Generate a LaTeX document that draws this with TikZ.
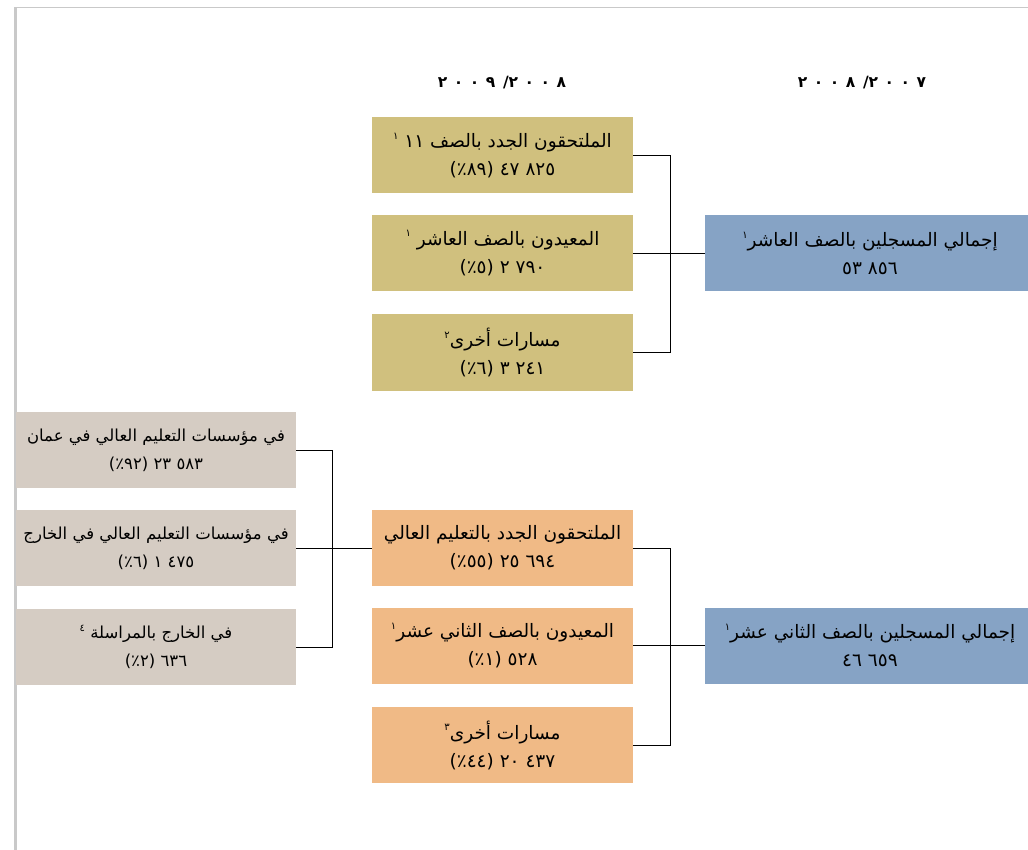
\documentclass[tikz,border=0pt]{standalone}
\usepackage{fontspec}
\newfontfamily\arabicfont[Script=Arabic]{DejaVu Sans}
\TeXXeTstate=1
\definecolor{khaki}{HTML}{D0C07E}
\definecolor{bluebox}{HTML}{86A3C5}
\definecolor{graybox}{HTML}{D5CCC3}
\definecolor{orangebox}{HTML}{F0BA86}
\definecolor{frame}{HTML}{C9C9C9}
\newcommand\supnum[1]{\raisebox{0.8ex}{\fontsize{10}{10}\selectfont #1}}
\newcommand\dg{\hspace{0.42em}}
\tikzset{
  box/.style={minimum width=261, minimum height=76, inner sep=0pt, align=center,
    font=\arabicfont\fontsize{18.5}{28}\selectfont},
  kbox/.style={box, fill=khaki},
  obox/.style={box, fill=orangebox},
  gbox/.style={box, fill=graybox, minimum width=280, font=\arabicfont\fontsize{16.5}{28}\selectfont},
  bbox/.style={box, fill=bluebox, minimum width=330},
  head/.style={font=\arabicfont\bfseries\fontsize{15.5}{18}\selectfont, inner sep=0pt},
  conn/.style={draw=black, line width=0.8pt},
}
\begin{document}
\begin{tikzpicture}[x=1pt, y=-1pt]
\useasboundingbox (0,0) rectangle (1028,850);
\clip (0,0) rectangle (1028,850);
\fill[white] (0,0) rectangle (1028,850);
\fill[frame] (14,8) rectangle (17,850);
\draw[frame, line width=1.2pt] (14,7.5) -- (1028,7.5);

\node[head] (h1) at (502,83) {\beginR\beginL ٢\dg٠\dg٠\dg٨\endL/\hspace{0.5em}\beginL ٢\dg٠\dg٠\dg٩\endL\endR};
\node[head] (h2) at (862,83) {\beginR\beginL ٢\dg٠\dg٠\dg٧\endL/\hspace{0.5em}\beginL ٢\dg٠\dg٠\dg٨\endL\endR};

\node[kbox] (k1) at (502.5,155.5) {\beginR الملتحقون الجدد بالصف ١١ \supnum{١}\endR\\\beginR\beginL ٤٧ ٨٢٥\endL{} (٨٩٪)\endR};
\node[kbox] (k2) at (502.5,253) {\beginR المعيدون بالصف العاشر \supnum{١}\endR\\\beginR\beginL ٢ ٧٩٠\endL{} (٥٪)\endR};
\node[kbox] (k3) at (502.5,352.5) {\beginR مسارات أخرى\supnum{٢}\endR\\\beginR\beginL ٣ ٢٤١\endL{} (٦٪)\endR};

\node[bbox] (b1) at (870,253) {\beginR إجمالي المسجلين بالصف العاشر\supnum{١}\endR\\\beginR\beginL ٥٣ ٨٥٦\endL\endR};

\node[gbox] (g1) at (156,450) {\beginR في مؤسسات التعليم العالي في عمان\endR\\\beginR\beginL ٢٣ ٥٨٣\endL{} (٩٢٪)\endR};
\node[gbox] (g2) at (156,548) {\beginR في مؤسسات التعليم العالي في الخارج\endR\\\beginR\beginL ١ ٤٧٥\endL{} (٦٪)\endR};
\node[gbox] (g3) at (156,647) {\beginR في الخارج بالمراسلة \supnum{٤}\endR\\\beginR ٦٣٦ (٢٪)\endR};

\node[obox] (o1) at (502.5,548) {\beginR الملتحقون الجدد بالتعليم العالي\endR\\\beginR\beginL ٢٥ ٦٩٤\endL{} (٥٥٪)\endR};
\node[obox] (o2) at (502.5,645.5) {\beginR المعيدون بالصف الثاني عشر\supnum{١}\endR\\\beginR ٥٢٨ (١٪)\endR};
\node[obox] (o3) at (502.5,745) {\beginR مسارات أخرى\supnum{٣}\endR\\\beginR\beginL ٢٠ ٤٣٧\endL{} (٤٤٪)\endR};

\node[bbox] (b2) at (870,645.5) {\beginR إجمالي المسجلين بالصف الثاني عشر\supnum{١}\endR\\\beginR\beginL ٤٦ ٦٥٩\endL\endR};

\coordinate (jk) at (670,253);
\coordinate (jo) at (670,645.5);
\coordinate (jg) at (332,548);

\draw[conn] (k1.east) -| (jk);
\draw[conn] (k3.east) -| (jk);
\draw[conn] (k2.east) -- (b1.west);
\draw[conn] (o1.east) -| (jo);
\draw[conn] (o3.east) -| (jo);
\draw[conn] (o2.east) -- (b2.west);
\draw[conn] (g1.east) -| (jg);
\draw[conn] (g3.east) -| (jg);
\draw[conn] (g2.east) -- (o1.west);
\end{tikzpicture}
\end{document}
